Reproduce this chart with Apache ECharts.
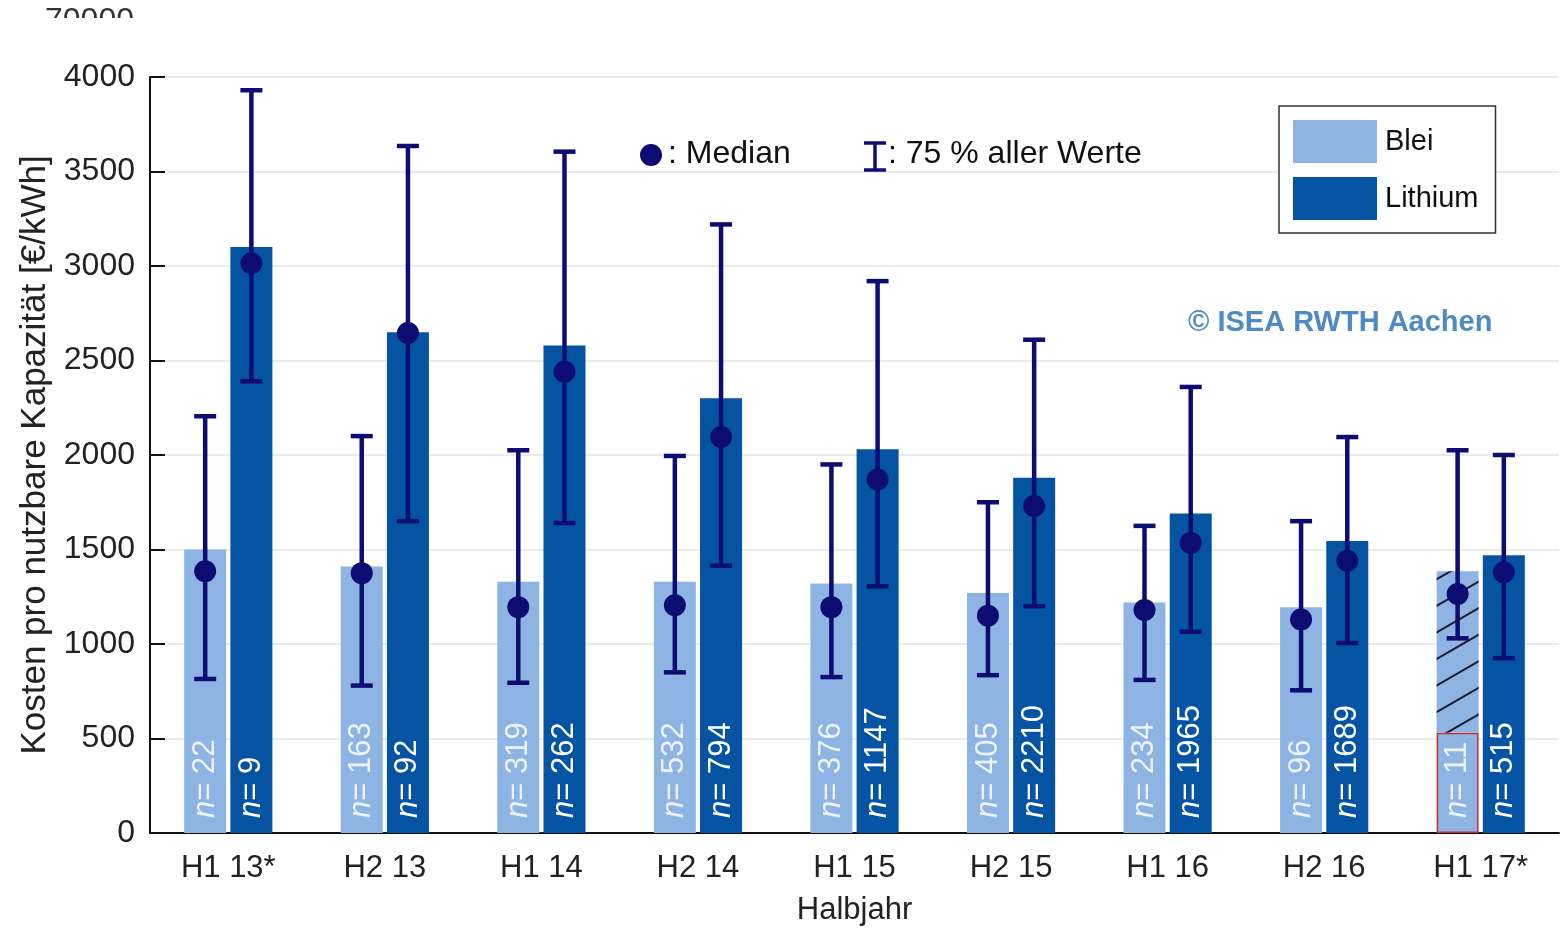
<!DOCTYPE html>
<html>
<head>
<meta charset="utf-8">
<script src="https://cdn.jsdelivr.net/npm/echarts@6/dist/echarts.min.js"></script>
<style>
html,body{margin:0;padding:0;background:#fff;}
#chart{width:1560px;height:929px;}
</style>
</head>
<body>
<div id="chart"></div>
<script>
// ---- data ----
const categories = ['H1 13*', 'H2 13', 'H1 14', 'H2 14', 'H1 15', 'H2 15', 'H1 16', 'H2 16', 'H1 17*'];
const bleiBar      = [1500, 1410, 1330, 1330, 1320, 1270, 1220, 1195, 1385];
const bleiSecure   = [null, null, null, null, null, null, null, null, 530];   // non-hatched part
const lithiumBar   = [3100, 2650, 2580, 2300, 2030, 1880, 1690, 1545, 1470];
const bleiMedian   = [1385, 1375, 1195, 1205, 1195, 1150, 1180, 1130, 1265];
const lithiumMedian= [3015, 2645, 2440, 2095, 1870, 1730, 1535, 1440, 1380];
const bleiLow      = [815, 780, 795, 850, 825, 835, 810, 755, 1030];
const bleiHigh     = [2205, 2100, 2025, 1995, 1950, 1750, 1625, 1650, 2025];
const lithiumLow   = [2390, 1650, 1640, 1415, 1305, 1200, 1065, 1005, 925];
const lithiumHigh  = [3930, 3635, 3605, 3220, 2920, 2610, 2360, 2095, 2000];
const bleiN        = [22, 163, 319, 532, 376, 405, 234, 96, 11];
const lithiumN     = [9, 92, 262, 794, 1147, 2210, 1965, 1689, 515];

// ---- styles ----
const FONT = '"Liberation Sans", Arial, sans-serif';
const C_BLEI = '#8db4e2';
const C_LI = '#0553a3';
const C_NAVY = '#0c0c72';
const BAR_W = 42;
const BAR_GAP = 4.2;
const OFF = (BAR_W + BAR_GAP) / 2;

const chart = echarts.init(document.getElementById('chart'), null, {renderer: 'canvas'});

const bleiBase = bleiBar.map((v, i) => bleiSecure[i] == null ? v : bleiSecure[i]);
const bleiHatch = bleiBar.map((v, i) => bleiSecure[i] == null ? '-' : v - bleiSecure[i]);

function nLabel(arr, color) {
  return {
    show: true,
    position: 'insideBottom',
    rotate: 90,
    align: 'left',
    verticalAlign: 'middle',
    distance: 15,
    color: color,
    fontFamily: FONT,
    fontSize: 31,
    formatter: p => '{i|n}= ' + arr[p.dataIndex],
    rich: { i: { fontStyle: 'italic', fontSize: 31, fontFamily: FONT, color: color } }
  };
}

function errorSeries(name, low, high, med, offset) {
  return {
    type: 'custom',
    name: name,
    z: 5,
    silent: true,
    data: categories.map((c, i) => [i, low[i], high[i], med[i]]),
    encode: { x: 0, y: [1, 2, 3] },
    renderItem: (params, api) => {
      const i = api.value(0);
      const pl = api.coord([i, api.value(1)]);
      const ph = api.coord([i, api.value(2)]);
      const pm = api.coord([i, api.value(3)]);
      const x = pl[0] + offset;
      const st = { stroke: C_NAVY, lineWidth: 4.5 };
      return {
        type: 'group',
        children: [
          { type: 'line', shape: { x1: x, y1: pl[1], x2: x, y2: ph[1] }, style: st },
          { type: 'line', shape: { x1: x - 11, y1: pl[1], x2: x + 11, y2: pl[1] }, style: st },
          { type: 'line', shape: { x1: x - 11, y1: ph[1], x2: x + 11, y2: ph[1] }, style: st },
          { type: 'circle', shape: { cx: x, cy: pm[1], r: 11 }, style: { fill: C_NAVY } }
        ]
      };
    }
  };
}

const option = {
  backgroundColor: '#fff',
  animation: false,
  textStyle: { fontFamily: FONT },
  grid: { left: 150, right: 1, top: 77, bottom: 96, containLabel: false, outerBoundsMode: 'none' },
  legend: {
    data: [{ name: 'Blei', icon: 'rect' }, { name: 'Lithium', icon: 'rect' }],
    orient: 'vertical',
    left: 1279,
    top: 106,
    itemWidth: 84,
    itemHeight: 43,
    itemGap: 14,
    padding: [14, 17, 13, 14],
    borderColor: '#333',
    borderWidth: 1.5,
    backgroundColor: '#fff',
    selectedMode: false,
    textStyle: { fontSize: 29, color: '#111', fontFamily: FONT, padding: [0, 0, 0, 3] }
  },
  xAxis: {
    type: 'category',
    data: categories,
    name: 'Halbjahr',
    nameLocation: 'middle',
    nameGap: 62,
    nameTextStyle: { fontSize: 31, color: '#222', fontFamily: FONT },
    axisLine: { lineStyle: { color: '#111', width: 2 } },
    axisTick: { show: false },
    axisLabel: { fontSize: 31, color: '#222', margin: 20, fontFamily: FONT },
    splitLine: { show: false }
  },
  yAxis: {
    type: 'value',
    min: 0,
    max: 4000,
    interval: 500,
    name: 'Kosten pro nutzbare Kapazität [€/kWh]',
    nameLocation: 'middle',
    nameGap: 92,
    nameRotate: 90,
    nameTextStyle: { fontSize: 35, color: '#222', fontFamily: FONT },
    axisLine: { show: true, lineStyle: { color: '#111', width: 2 } },
    axisTick: { show: true, inside: true, length: 15, lineStyle: { color: '#111', width: 2 } },
    axisLabel: { fontSize: 32, color: '#222', margin: 15, fontFamily: FONT, formatter: v => String(v) },
    splitLine: { lineStyle: { color: '#e3e3e3', width: 1.5 } }
  },
  series: [
    {
      name: 'Blei',
      type: 'bar',
      stack: 'blei',
      barWidth: BAR_W,
      barGap: (BAR_GAP / BAR_W * 100) + '%',
      itemStyle: { color: C_BLEI },
      data: bleiBase.map((v, i) => bleiSecure[i] == null ? v : {
        value: v,
        itemStyle: { color: C_BLEI, borderColor: '#cc2a2a', borderWidth: 1.5 }
      }),
      label: nLabel(bleiN, '#eef3fa')
    },
    {
      name: 'Blei unsicher',
      type: 'bar',
      stack: 'blei',
      barWidth: BAR_W,
      itemStyle: {
        color: C_BLEI,
        decal: {
          symbol: 'rect',
          symbolSize: 1,
          dashArrayX: [1, 0],
          dashArrayY: [1.5, 21],
          rotation: -Math.PI / 6,
          color: '#1a1a2a'
        }
      },
      data: bleiHatch
    },
    {
      name: 'Lithium',
      type: 'bar',
      barWidth: BAR_W,
      itemStyle: { color: C_LI },
      data: lithiumBar,
      label: nLabel(lithiumN, '#ffffff')
    },
    errorSeries('Blei Median', bleiLow, bleiHigh, bleiMedian, -OFF),
    errorSeries('Lithium Median', lithiumLow, lithiumHigh, lithiumMedian, OFF)
  ],
  graphic: [
    { type: 'text', left: 45, top: 5, z: 1, style: { text: '70000', font: '32px ' + FONT, fill: '#333' } },
    { type: 'rect', left: 0, top: 18, z: 2, shape: { width: 400, height: 38 }, style: { fill: '#fff' } },
    // annotation: median
    { type: 'circle', z: 10, shape: { cx: 651, cy: 155, r: 11 }, style: { fill: C_NAVY } },
    { type: 'text', z: 10, x: 668, y: 154, style: { text: ': Median', font: '32px ' + FONT, fill: '#111', verticalAlign: 'middle' } },
    // annotation: error bar icon
    { type: 'line', z: 10, shape: { x1: 875, y1: 143, x2: 875, y2: 170 }, style: { stroke: C_NAVY, lineWidth: 3.5 } },
    { type: 'line', z: 10, shape: { x1: 864, y1: 143, x2: 886, y2: 143 }, style: { stroke: C_NAVY, lineWidth: 3.5 } },
    { type: 'line', z: 10, shape: { x1: 864, y1: 170, x2: 886, y2: 170 }, style: { stroke: C_NAVY, lineWidth: 3.5 } },
    { type: 'text', z: 10, x: 888, y: 154, style: { text: ': 75 % aller Werte', font: '32px ' + FONT, fill: '#111', verticalAlign: 'middle' } },
    // copyright
    { type: 'text', z: 10, x: 1188, y: 323, style: { text: '© ISEA RWTH Aachen', font: 'bold 29px ' + FONT, fill: '#4d8ac6', verticalAlign: 'middle' } }
  ]
};

chart.setOption(option);
</script>
</body>
</html>
